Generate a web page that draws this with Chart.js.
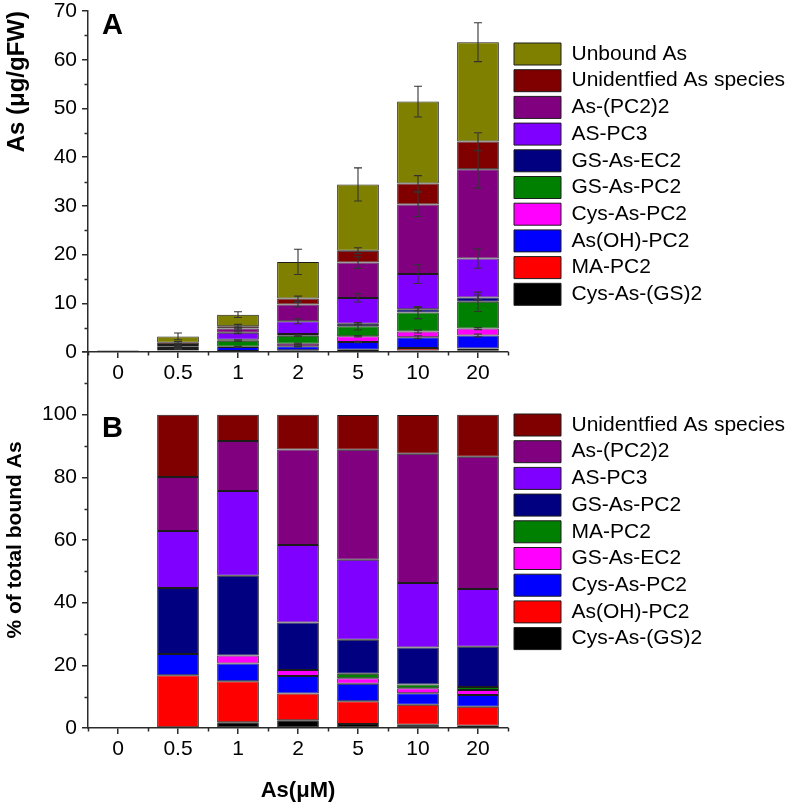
<!DOCTYPE html>
<html><head><meta charset="utf-8">
<script src="https://cdn.jsdelivr.net/npm/chart.js@4.4.1/dist/chart.umd.min.js"></script>
<style>
html,body{margin:0;padding:0;background:#fff;}
#wrap{position:relative;width:789px;height:806px;overflow:hidden;}
canvas{position:absolute;left:0;top:0;}
</style></head><body>
<div id="wrap"><canvas id="cA" width="789" height="806"></canvas><canvas id="cB" width="789" height="806"></canvas></div>
<script>
const categories = ['0','0.5','1','2','5','10','20'];

// Panel A: As (µg/gFW), stacked bottom -> top
const aCysAsGS2 = [null, 0.05, 0.15, 0.2, 0.2, 0.3, 0.35];
const aMAPC2    = [null, 0.08, 0.05, 0.14, 0.28, 0.5, 0.35];
const aAsOHPC2  = [null, 0.18, 0.85, 0.82, 1.57, 2.25, 2.7];
const aCysAsPC2 = [null, 0.03, 0.05, 0.55, 1.17, 1.15, 1.4];
const aGSAsPC2  = [null, 0.28, 1.23, 1.65, 2.05, 3.9, 5.5];
const aGSAsEC2  = [null, 0.2, 0.2, 0.34, 0.55, 0.7, 0.9];
const aAsPC3    = [null, 0.28, 1.44, 2.6, 5.28, 7.2, 8.0];
const aAsPC2_2  = [null, 0.34, 0.83, 3.43, 7.26, 14.3, 18.3];
const aUnident  = [null, 0.48, 0.47, 1.23, 2.44, 4.3, 5.7];
const aUnbound  = [0.3, 1.28, 2.4, 7.54, 13.6, 16.8, 20.4];

// Panel A error bars (± at top of each segment)
const eCysAsPC2 = [0, 0, 0.05, 0.15, 0.15, 0.3, 0.2];
const eAsOHPC2  = [0, 0, 0.1, 0.1, 0.15, 0.3, 0.3];
const eGSAsPC2  = [0, 0.1, 0.15, 0.15, 0.75, 1.25, 2.0];
const eGSAsEC2  = [0, 0, 0, 0, 0.2, 0.3, 0.5];
const eAsPC3    = [0, 0.1, 0.2, 0.5, 0.85, 1.95, 2.0];
const eAsPC2_2  = [0, 0.2, 0.3, 0.45, 1.2, 2.5, 3.8];
const eUnident  = [0, 0.2, 0.4, 0.5, 0.6, 1.6, 1.8];
const eUnbound  = [0, 0.7, 0.6, 2.6, 3.4, 3.15, 4.0];

// Panel B: % of total bound As, stacked bottom -> top
const bCysAsGS2 = [null, null, 1.8, 2.5, 1.3, 1.0, 0.7];
const bAsOHPC2  = [null, 16.8, 13.1, 8.5, 7.2, 6.4, 6.1];
const bCysAsPC2 = [null, 6.8, 5.7, 5.6, 5.6, 3.7, 3.7];
const bGSAsEC2  = [null, null, 2.5, 1.9, 1.8, 1.6, 1.6];
const bMAPC2    = [null, null, null, null, 1.4, 1.2, 1.0];
const bGSAsPC2  = [null, 21.1, 25.5, 15.2, 10.9, 11.8, 12.8];
const bAsPC3    = [null, 18.2, 27.0, 24.7, 25.5, 20.6, 18.5];
const bAsPC2_2  = [null, 17.2, 16.0, 30.5, 35.1, 41.2, 42.2];
const bUnident  = [null, 19.9, 8.4, 11.1, 11.1, 12.4, 13.4];

const yTicksA = [0, 10, 20, 30, 40, 50, 60, 70];
const yMinorA = [5, 15, 25, 35, 45, 55, 65];
const yTicksB = [0, 20, 40, 60, 80, 100];
const yMinorB = [10, 30, 50, 70, 90, 110];

const COL = {
  olive:'#808000', darkred:'#800000', purple:'#800080', violet:'#8000FF',
  navy:'#000080', green:'#008000', magenta:'#FF00FF', blue:'#0000FF',
  red:'#FF0000', black:'#000000'
};
const FONT = "'Liberation Sans', Arial, Helvetica, sans-serif";
const AXIS = '#2b2b2b';

function ds(label, data, color, errors) {
  return {label, data, backgroundColor: color, borderColor: '#1c1c1c', borderWidth: 1,
          borderSkipped: false, errors: errors || null,
          barPercentage: 0.695, categoryPercentage: 1.0};
}

function decor(cfg) {
  return {
    id: 'decor' + cfg.letter,
    afterLayout(chart) {
      const L = chart.legend;
      const pad = chart.options.plugins.legend.labels.padding;
      L.left = cfg.legendLeft - pad;
      L.top = cfg.legendTop - pad;
      L.right = chart.width;
      L.bottom = L.top + 420;
      L.width = L.right - L.left;
      L.height = L.bottom - L.top;
    },
    afterDatasetsDraw(chart) {
      const ctx = chart.ctx, ys = chart.scales.y;
      ctx.save();
      ctx.strokeStyle = '#333';
      ctx.lineWidth = 1.1;
      chart.data.datasets.forEach((d, di) => {
        if (!d.errors) return;
        const meta = chart.getDatasetMeta(di);
        meta.data.forEach((el, i) => {
          const e = d.errors[i];
          if (!e || d.data[i] == null) return;
          const h = ys.getPixelForValue(0) - ys.getPixelForValue(e);
          const x = el.x, y = el.y, cw = 4;
          ctx.beginPath();
          ctx.moveTo(x, y - h); ctx.lineTo(x, y + h);
          ctx.moveTo(x - cw, y - h); ctx.lineTo(x + cw, y - h);
          ctx.moveTo(x - cw, y + h); ctx.lineTo(x + cw, y + h);
          ctx.stroke();
        });
      });
      ctx.restore();
    },
    afterDraw(chart) {
      const ctx = chart.ctx, xs = chart.scales.x, ys = chart.scales.y;
      ctx.save();
      ctx.strokeStyle = AXIS;
      ctx.lineWidth = 1.5;
      ctx.beginPath();
      cfg.minor.forEach(v => {
        const y = Math.round(ys.getPixelForValue(v)) + 0.5;
        ctx.moveTo(ys.right - 3.5, y); ctx.lineTo(ys.right, y);
      });
      const n = categories.length;
      const half = (xs.getPixelForValue(1) - xs.getPixelForValue(0)) / 2;
      for (let i = 0; i <= n; i++) {
        const x = Math.round(xs.getPixelForValue(0) - half + i * 2 * half) + 0.5;
        ctx.moveTo(x, xs.top); ctx.lineTo(x, xs.top + 3.5);
      }
      ctx.stroke();
      ctx.fillStyle = '#000';
      ctx.font = 'bold 29px ' + FONT;
      ctx.textBaseline = 'alphabetic';
      ctx.textAlign = 'left';
      ctx.fillText(cfg.letter, chart.chartArea.left + 14, ys.getPixelForValue(cfg.letterAt) + cfg.letterDy);
      ctx.restore();
    }
  };
}

function scalesFor(yMax, stepSize, yTitle, yTitleAlign, yTitleSize, xTitle, xHeight, yLabelMax) {
  return {
    x: {
      stacked: true, offset: true,
      grid: {display: true, drawOnChartArea: false, drawTicks: true, tickLength: 6, offset: false, color: AXIS, lineWidth: 1.5},
      border: {display: true, color: AXIS, width: 1.5},
      ticks: {color: '#000', font: {size: 21, family: FONT}, padding: 3, maxRotation: 0, autoSkip: false},
      title: xTitle ? {display: true, text: xTitle, color: '#000', font: {size: 22, weight: 'bold', family: FONT}, padding: {top: 0, bottom: 0}} : {display: false},
      afterFit(s) { s.height = xHeight; s.paddingLeft = 0; s.paddingRight = 0; }
    },
    y: {
      stacked: true, min: 0, max: yMax,
      grid: {display: true, drawOnChartArea: false, drawTicks: true, tickLength: 6, color: AXIS, lineWidth: 1.5},
      border: {display: true, color: AXIS, width: 1.5},
      ticks: {stepSize, color: '#000', font: {size: 21, family: FONT}, padding: 5,
              callback: v => (v > yLabelMax ? '' : String(v))},
      title: {display: true, text: yTitle, align: yTitleAlign, color: '#000', font: {size: yTitleSize, weight: 'bold', family: FONT}, padding: {top: 3, bottom: 0}},
      afterFit(s) { s.width = 88; s.paddingTop = 0; s.paddingBottom = 0; }
    }
  };
}

Chart.defaults.font.family = FONT;
Chart.defaults.color = '#000';

new Chart(document.getElementById('cA'), {
  type: 'bar',
  data: {
    labels: categories,
    datasets: [
      ds('Cys-As-(GS)2', aCysAsGS2, COL.black),
      ds('MA-PC2', aMAPC2, COL.red),
      ds('As(OH)-PC2', aAsOHPC2, COL.blue, eAsOHPC2),
      ds('Cys-As-PC2', aCysAsPC2, COL.magenta, eCysAsPC2),
      ds('GS-As-PC2', aGSAsPC2, COL.green, eGSAsPC2),
      ds('GS-As-EC2', aGSAsEC2, COL.navy, eGSAsEC2),
      ds('AS-PC3', aAsPC3, COL.violet, eAsPC3),
      ds('As-(PC2)2', aAsPC2_2, COL.purple, eAsPC2_2),
      ds('Unidentfied As species', aUnident, COL.darkred, eUnident),
      ds('Unbound As', aUnbound, COL.olive, eUnbound)
    ]
  },
  options: {
    responsive: false, animation: false, devicePixelRatio: 1,
    layout: {padding: {left: 0, right: 281, top: 11, bottom: 414}},
    plugins: {
      legend: {position: 'chartArea', align: 'start', reverse: true,
        labels: {boxWidth: 47, boxHeight: 22, padding: 4.7, color: '#000', font: {size: 21, family: FONT}}},
      tooltip: {enabled: false}
    },
    scales: scalesFor(70, 10, 'As (\u03bcg/gFW)', 'end', 24, null, 40, 70)
  },
  plugins: [decor({letter: 'A', legendLeft: 514, legendTop: 43, minor: yMinorA, letterAt: 70, letterDy: 23})]
});

new Chart(document.getElementById('cB'), {
  type: 'bar',
  data: {
    labels: categories,
    datasets: [
      ds('Cys-As-(GS)2', bCysAsGS2, COL.black),
      ds('As(OH)-PC2', bAsOHPC2, COL.red),
      ds('Cys-As-PC2', bCysAsPC2, COL.blue),
      ds('GS-As-EC2', bGSAsEC2, COL.magenta),
      ds('MA-PC2', bMAPC2, COL.green),
      ds('GS-As-PC2', bGSAsPC2, COL.navy),
      ds('AS-PC3', bAsPC3, COL.violet),
      ds('As-(PC2)2', bAsPC2_2, COL.purple),
      ds('Unidentfied As species', bUnident, COL.darkred)
    ]
  },
  options: {
    responsive: false, animation: false, devicePixelRatio: 1,
    layout: {padding: {left: 0, right: 281, top: 352, bottom: 2}},
    plugins: {
      legend: {position: 'chartArea', align: 'start', reverse: true,
        labels: {boxWidth: 47, boxHeight: 22, padding: 4.7, color: '#000', font: {size: 21, family: FONT}}},
      tooltip: {enabled: false}
    },
    scales: scalesFor(120, 20, '% of total bound As', 'center', 21, 'As(\u03bcM)', 76, 100)
  },
  plugins: [decor({letter: 'B', legendLeft: 514, legendTop: 414, minor: yMinorB, letterAt: 100, letterDy: 22})]
});
</script>
</body></html>
